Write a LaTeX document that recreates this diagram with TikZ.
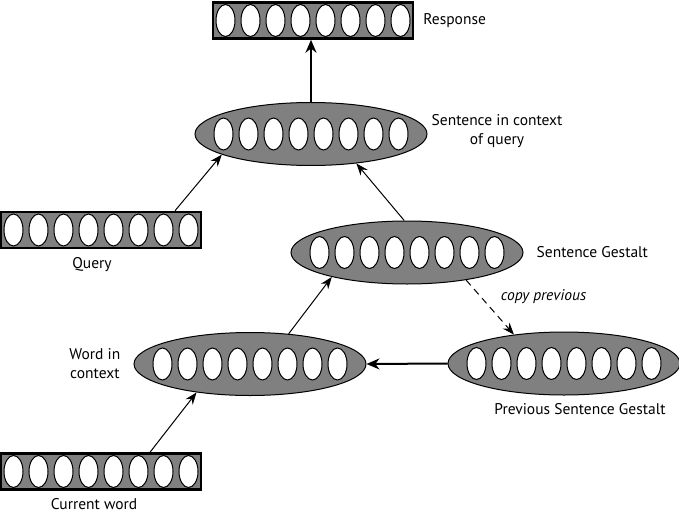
\documentclass[tikz,border=0pt]{standalone}
\usepackage{fontspec}
\setmainfont{PT Sans}
\usepackage{tikz}
\usepackage{xcolor}
\usetikzlibrary{shapes.geometric, arrows.meta, positioning, calc}
\definecolor{layerGray}{RGB}{128, 128, 128}

\begin{document}
\begin{tikzpicture}[
        x=1pt, y=-1pt,
        boxlayer/.style={rectangle, draw=black, fill=layerGray, line width=2.5pt, minimum width=200pt, minimum height=36pt, inner sep=0pt},
        elllayer/.style={ellipse, draw=black, fill=layerGray, line width=1pt, minimum width=232pt, minimum height=63pt, inner sep=0pt},
        unit/.style={ellipse, draw=black, fill=white, line width=1pt, minimum width=19pt, minimum height=32pt, inner sep=0pt},
        lbl/.style={font=\fontsize{15.5}{19}\selectfont, inner sep=2pt, align=center},
        link/.style={-{Stealth[length=12pt, width=9pt]}, line width=1pt},
        thicklink/.style={-{Stealth[length=13pt, width=11pt]}, line width=2pt}
    ]
        \useasboundingbox (0,0) rectangle (679,513);

        % Layers
        \node[boxlayer] (resp) at (313,20.5) {};
        \node[elllayer] (sic) at (311,134) {};
        \node[boxlayer] (query) at (101,230) {};
        \node[elllayer] (sg) at (407,252.5) {};
        \node[elllayer] (wic) at (250,364) {};
        \node[elllayer] (psg) at (564,363.5) {};
        \node[boxlayer] (cw) at (101,471.5) {};

        % Units
        \foreach \n in {resp, sic, query, sg, wic, psg, cw}
            \foreach \i in {1,...,8}
                \node[unit] (\n-\i) at ($(\n)+({(\i-4.5)*25},0)$) {};

        % Labels
        \node[lbl, right=7pt of resp] (resplbl) {Response};
        \node[lbl, right=2pt of sic, yshift=3pt] (siclbl) {Sentence in context\\of query};
        \node[lbl, below=6pt of query, xshift=-9pt] (querylbl) {Query};
        \node[lbl, right=11pt of sg] (sglbl) {Sentence Gestalt};
        \node[lbl, left=11pt of wic] (wiclbl) {Word in\\context};
        \node[lbl, below=6pt of psg, xshift=16pt] (psglbl) {Previous Sentence Gestalt};
        \node[lbl, below=6pt of cw, xshift=-7pt] (cwlbl) {Current word};

        % Connections
        \draw[thicklink] (sic.north) -- (sic.north |- resp.south);
        \draw[link] ($(query.north)+(74,0)$) -- (sic.193);
        \draw[link] (sg.95) -- (sic.327);
        \draw[link] (wic.38) -- (sg.198);
        \draw[link] ($(cw.north)+(49,0)$) -- (wic.208);
        \draw[link, dashed, dash pattern=on 7pt off 5pt] (sg.335) -- (psg.150)
            node[lbl, pos=0.3, right=18pt, font=\fontsize{15.5}{19}\selectfont\itshape] (copylbl) {copy previous};
        \draw[thicklink] (psg.west) -- (wic.east);
    \end{tikzpicture}
\end{document}
